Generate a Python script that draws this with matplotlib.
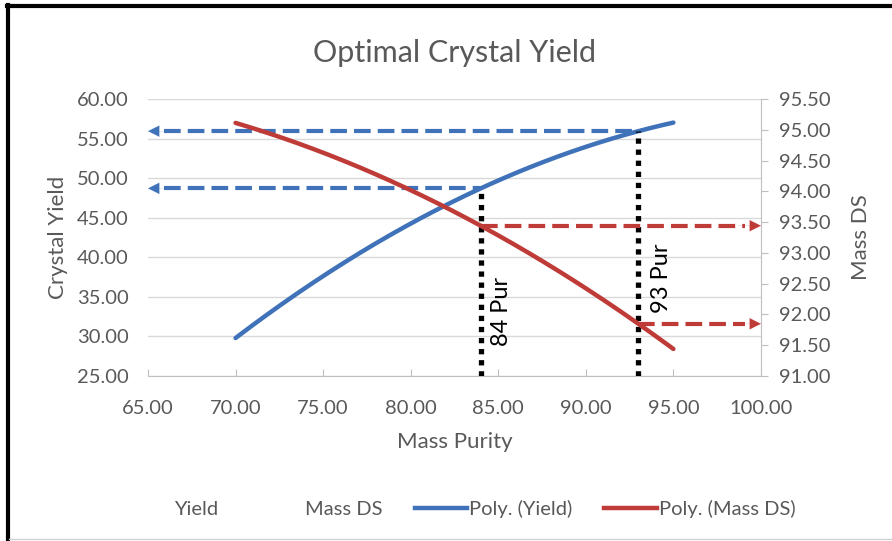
import numpy as np
import matplotlib
matplotlib.use("Agg")
import matplotlib.pyplot as plt
from matplotlib.lines import Line2D

plt.rcParams['font.family'] = ['Lato', 'DejaVu Sans']

# points picked along the two series
mass_purity = [70, 75, 80, 84, 90, 93, 95]
crystal_yield = [29.8, 37.6, 44.3, 48.7, 53.9, 56.0, 57.0]
mass_ds = [95.11, 94.63, 94.02, 93.44, 92.42, 91.85, 91.44]

cut_purities = [84, 93]
cut_labels = ['84 Pur', '93 Pur']

BLUE = '#3F72B8'
RED = '#BF3B37'
GRAY = '#595959'

# second order trendlines, like Excel's "Poly." option
yield_fit = np.poly1d(np.polyfit(mass_purity, crystal_yield, 2))
ds_fit = np.poly1d(np.polyfit(mass_purity, mass_ds, 2))
xs = np.linspace(min(mass_purity), max(mass_purity), 200)

fig = plt.figure(figsize=(8.92, 5.41), dpi=100)
ax = fig.add_axes([0.1659, 0.305, 0.6872, 0.512])
ax2 = ax.twinx()

ax.set_xlim(65, 100)
ax.set_ylim(25, 60)
ax2.set_ylim(91, 95.5)
ax.set_xticks(np.arange(65, 100.1, 5))
ax.set_yticks(np.arange(25, 60.1, 5))
ax2.set_yticks(np.arange(91, 95.51, 0.5))
fmt = matplotlib.ticker.FormatStrFormatter('%.2f')
ax.xaxis.set_major_formatter(fmt)
ax.yaxis.set_major_formatter(fmt)
ax2.yaxis.set_major_formatter(fmt)

ax.grid(axis='y', color='#D9D9D9', lw=1)
ax.set_axisbelow(True)
for a in (ax, ax2):
    a.spines['top'].set_visible(False)
    a.spines['left'].set_visible(False)
ax.spines['right'].set_visible(False)
ax.spines['bottom'].set_color('#BFBFBF')
ax2.spines['bottom'].set_visible(False)
ax2.spines['right'].set_color('#BFBFBF')

ax.tick_params(axis='x', direction='in', length=5, color='#BFBFBF',
               labelsize=14.5, labelcolor=GRAY, pad=17)
ax.tick_params(axis='y', length=0, labelsize=14.5, labelcolor=GRAY, pad=14)
ax2.tick_params(axis='y', direction='out', length=5, color='#BFBFBF',
                labelsize=14.5, labelcolor=GRAY, pad=8)

ax.set_xlabel('Mass Purity', fontsize=16, color=GRAY, labelpad=11)
ax.set_ylabel('Crystal Yield', fontsize=16, color=GRAY, labelpad=6)
ax2.set_ylabel('Mass DS', fontsize=16, color=GRAY, labelpad=15)
ax.set_title('Optimal Crystal Yield', fontsize=22, color=GRAY, pad=27)

ax.plot(xs, yield_fit(xs), color=BLUE, lw=3.2, solid_capstyle='round', zorder=4)
ax2.plot(xs, ds_fit(xs), color=RED, lw=3.2, solid_capstyle='round', zorder=4)

# guide lines at the chosen purities
for p in cut_purities:
    y_level = yield_fit(p)
    d_level = ds_fit(p)
    ax.plot([p, p], [25, y_level], color='black', lw=3.8,
            linestyle=(0, (1, 1.1)), zorder=5)
    ax.plot([65.9, p], [y_level, y_level], color=BLUE, lw=3,
            linestyle=(0, (4, 1.7)), zorder=3)
    ax.annotate('', xy=(65, y_level), xytext=(66.3, y_level),
                arrowprops=dict(arrowstyle='-|>', color=BLUE, lw=0.1,
                                mutation_scale=20, shrinkA=0, shrinkB=0))
    ax2.plot([p, 99.1], [d_level, d_level], color=RED, lw=3,
             linestyle=(0, (4, 1.7)), zorder=3)
    ax2.annotate('', xy=(100, d_level), xytext=(98.7, d_level),
                 arrowprops=dict(arrowstyle='-|>', color=RED, lw=0.1,
                                 mutation_scale=20, shrinkA=0, shrinkB=0))

ax.text(85.2, 33.1, cut_labels[0], rotation=90, fontsize=17,
        ha='center', va='center', zorder=6)
ax.text(94.3, 37.4, cut_labels[1], rotation=90, fontsize=17,
        ha='center', va='center', zorder=6)

handles = [Line2D([], [], color='none'), Line2D([], [], color='none'),
           Line2D([], [], color=BLUE, lw=3.2), Line2D([], [], color=RED, lw=3.2)]
labels = ['Yield', 'Mass DS', 'Poly. (Yield)', 'Poly. (Mass DS)']
fig.legend(handles, labels, loc='center', bbox_to_anchor=(0.513, 0.06), ncol=4,
           frameon=False, fontsize=14.5, labelcolor=GRAY, handlelength=2.6,
           handletextpad=0.1, columnspacing=1.6)

# frame edges around the chart
fig.add_artist(Line2D([0.0095, 0.0095], [0, 0.99], transform=fig.transFigure,
                      color='black', lw=3))
fig.add_artist(Line2D([0.008, 1], [0.988, 0.988], transform=fig.transFigure,
                      color='black', lw=3))
fig.add_artist(Line2D([0.01, 1], [0.004, 0.004], transform=fig.transFigure,
                      color='#D0D0D0', lw=1))

fig.savefig('out.png', dpi=100)
